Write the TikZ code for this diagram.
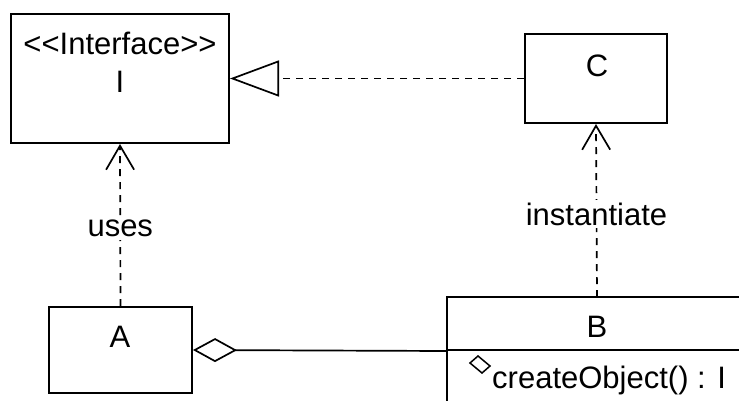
\documentclass[tikz,border=0pt]{standalone}
\usepackage{fontspec}
\setmainfont{Liberation Sans}[Ligatures=NoCommon]
\usetikzlibrary{arrows.meta}
\begin{document}
\begin{tikzpicture}[x=1pt,y=-1pt,
  box/.style={draw,line width=2pt,rectangle,inner sep=0pt},
  txt/.style={font=\fontsize{31}{34}\selectfont,inner sep=0pt},
  dep/.style={line width=1.7pt,dash pattern=on 7pt off 6pt},
  lbl/.style={txt,fill=white,inner sep=3pt}]
\useasboundingbox (0,0) rectangle (739,400);
\clip (0,0) rectangle (739,400);
% boxes
\node[box,minimum width=218pt,minimum height=129pt] (I) at (120,78.5) {};
\node[txt] (Ist) at (120,43) {{<}{<}Interface{>}{>}};
\node[txt] (In) at (120,82) {I};
\node[box,minimum width=142pt,minimum height=89pt] (C) at (596,78.5) {};
\node[txt] (Cn) at (597,66) {C};
\node[box,minimum width=143pt,minimum height=86pt] (A) at (120.5,350) {};
\node[txt] (An) at (120,337) {A};
\node[box,minimum width=320pt,minimum height=140pt] (B) at (607,367) {};
\coordinate (Btop) at (597,297);
\coordinate (Bleft) at (447,351);
\draw[line width=2pt] (447,350) -- (760,350);
\node[txt] (Bn) at (597,327) {B};
\node[txt,anchor=west] (Bm) at (492,380) {createObject() : I};
\draw[line width=1.5pt] (478,356) -- (470,363) -- (482,373) -- (490,366) -- cycle;
% connectors
\draw[dep,-{Triangle[open,length=49pt,width=36pt,line width=1.7pt]}] (C.west) -- (I.east);
\draw[dep,-{Straight Barb[length=24pt,width=28pt,line width=1.7pt]}] (A.north) -- node[lbl,pos=0.48] (uses) {uses} (I.south);
\draw[dep,-{Straight Barb[length=24pt,width=28pt,line width=1.7pt]}] (Btop) -- node[lbl,pos=0.48] (inst) {instantiate} (C.south);
\draw[line width=1.7pt,{Diamond[open,length=44pt,width=24pt,line width=1.7pt]}-] (A.east) -- (Bleft);
\end{tikzpicture}
\end{document}
